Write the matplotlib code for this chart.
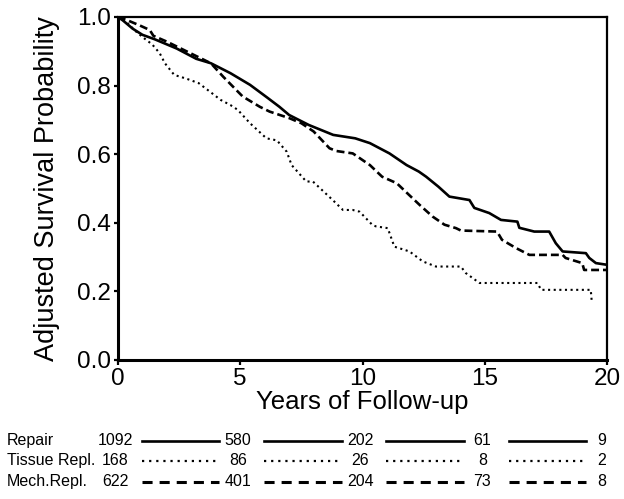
import matplotlib
matplotlib.use("Agg")
import matplotlib.pyplot as plt
import matplotlib.transforms as mtransforms
from matplotlib.lines import Line2D

plt.rcParams['font.family'] = ['Liberation Sans', 'DejaVu Sans']

# survival curves
repair_t = [0, 0.2, 0.6, 1.0, 1.5, 2.0, 2.4, 3.2, 3.8, 4.6, 5.4, 6.1, 6.6, 7.0, 7.8, 8.8,
            9.7, 10.3, 11.1, 11.8, 12.3, 12.6, 13.1, 13.55, 14.37, 14.57, 15.18, 15.66,
            16.33, 16.41, 17.02, 17.63, 17.9, 18.18, 19.13, 19.27, 19.54, 20.0]
repair_s = [1.0, 0.99, 0.966, 0.948, 0.935, 0.92, 0.908, 0.878, 0.865, 0.836, 0.802, 0.765,
            0.738, 0.714, 0.685, 0.656, 0.646, 0.632, 0.602, 0.568, 0.549, 0.534, 0.505,
            0.476, 0.466, 0.443, 0.428, 0.408, 0.403, 0.385, 0.374, 0.374, 0.34, 0.316,
            0.311, 0.297, 0.282, 0.277]

tissue_t = [0, 0.35, 0.7, 1.03, 1.4, 1.71, 1.92, 2.3, 2.8, 3.3, 3.8, 4.2, 4.6, 4.9, 5.4,
            6.07, 6.5, 6.9, 7.1, 7.7, 7.97, 8.78, 9.2, 9.6, 9.88, 10.42, 10.56, 11.03, 11.3,
            11.92, 12.46, 13.0, 14.02, 14.22, 14.78, 17.15, 17.3, 19.33, 19.37]
tissue_s = [1.0, 0.985, 0.96, 0.94, 0.92, 0.894, 0.865, 0.831, 0.82, 0.807, 0.78, 0.758,
            0.743, 0.729, 0.69, 0.646, 0.64, 0.607, 0.568, 0.52, 0.52, 0.466, 0.437, 0.437,
            0.432, 0.392, 0.389, 0.384, 0.33, 0.316, 0.287, 0.272, 0.272, 0.253, 0.224,
            0.224, 0.204, 0.204, 0.17]

mech_t = [0, 0.4, 0.9, 1.3, 1.45, 2.0, 2.4, 3.0, 3.8, 4.3, 5.1, 5.8, 6.2, 7.0, 7.5, 8.0,
          8.65, 8.93, 9.6, 10.3, 10.8, 11.4, 11.9, 12.33, 12.86, 13.35, 13.82, 14.02, 15.5,
          15.7, 16.27, 16.82, 18.18, 18.3, 18.98, 19.06, 20.0]
mech_s = [1.0, 0.99, 0.975, 0.962, 0.945, 0.928, 0.914, 0.893, 0.865, 0.826, 0.768, 0.738,
          0.724, 0.705, 0.69, 0.666, 0.617, 0.609, 0.602, 0.568, 0.534, 0.515, 0.481, 0.452,
          0.418, 0.394, 0.384, 0.377, 0.374, 0.35, 0.326, 0.306, 0.306, 0.297, 0.282,
          0.262, 0.262]

# numbers at risk
risk_times = [0, 5, 10, 15, 20]
group_names = ['Repair', 'Tissue Repl.', 'Mech.Repl.']
repair_risk = [1092, 580, 202, 61, 9]
tissue_risk = [168, 86, 26, 8, 2]
mech_risk = [622, 401, 204, 73, 8]

solid = '-'
dotted = (0, (1, 1.7))
dashed = (0, (3, 1.5))

fig = plt.figure(figsize=(6.24, 4.99), dpi=100)
ax = fig.add_axes([0.189, 0.279, 0.784, 0.687])

ax.plot(repair_t, repair_s, color='black', lw=1.9, linestyle=solid)
ax.plot(tissue_t, tissue_s, color='black', lw=1.5, linestyle=dotted)
ax.plot(mech_t, mech_s, color='black', lw=1.9, linestyle=dashed)

ax.set_xlim(0, 20)
ax.set_ylim(0, 1.0)
ax.set_xticks([0, 5, 10, 15, 20])
ax.set_yticks([0.0, 0.2, 0.4, 0.6, 0.8, 1.0])
ax.set_yticklabels(['0.0', '0.2', '0.4', '0.6', '0.8', '1.0'])
ax.tick_params(axis='both', labelsize=17.5, width=1.6, direction='out')
ax.tick_params(axis='y', length=3, pad=2)
ax.tick_params(axis='x', length=3.5, pad=2.5)
for side in ['left', 'bottom']:
    ax.spines[side].set_linewidth(2.2)
for side in ['top', 'right']:
    ax.spines[side].set_linewidth(1.6)

ax.set_xlabel('Years of Follow-up', fontsize=18.5, labelpad=0)
ax.set_ylabel('Adjusted Survival Probability', fontsize=19.5, labelpad=12)

# at-risk table under the plot
trans = mtransforms.blended_transform_factory(ax.transData, fig.transFigure)
row_y = [0.117, 0.077, 0.035]
row_counts = [repair_risk, tissue_risk, mech_risk]
row_styles = [(solid, 1.9), ((0, (1, 2.2)), 1.6), ((0, (3.3, 2.3)), 2.2)]

for name, counts, y, (ls, lw) in zip(group_names, row_counts, row_y, row_styles):
    fig.text(0.011, y, name, fontsize=11.5, va='center', ha='left')
    for i, (t, n) in enumerate(zip(risk_times, counts)):
        ha = 'right' if i == len(risk_times) - 1 else 'center'
        xt = t - 0.05 if ha == 'right' else t - 0.1
        fig.text(xt, y, str(n), fontsize=11.5, va='center', ha=ha, transform=trans)
        if i < len(risk_times) - 1:
            fig.add_artist(Line2D([t + 0.97, t + 4.15], [y, y], color='black', lw=lw,
                                  linestyle=ls, transform=trans))

fig.savefig('out.png', dpi=100)
